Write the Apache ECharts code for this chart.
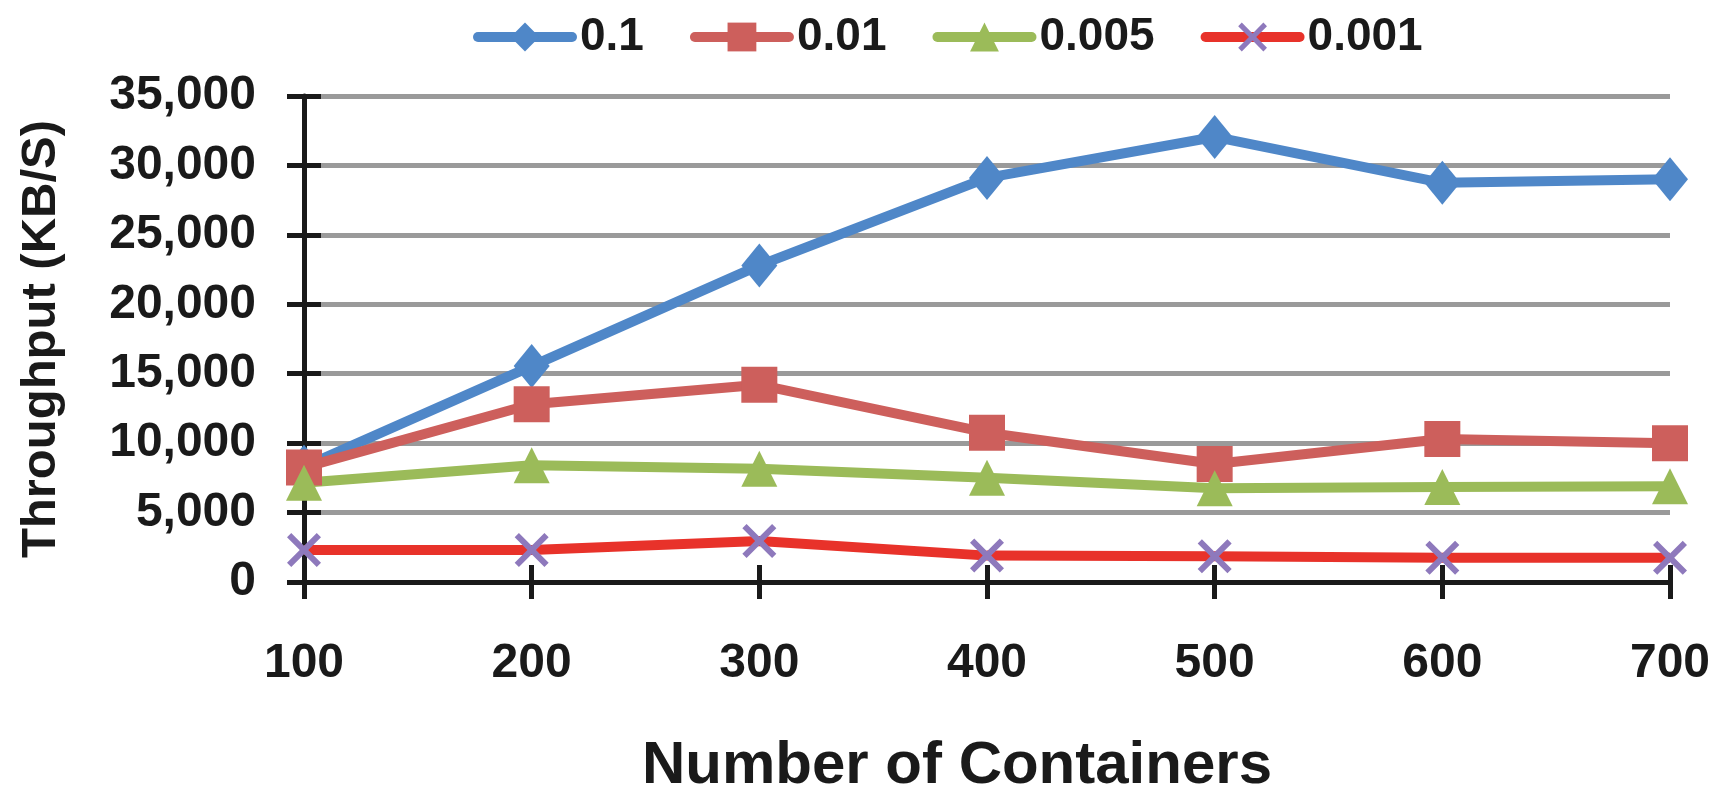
<!DOCTYPE html>
<html>
<head>
<meta charset="utf-8">
<script src="https://cdn.jsdelivr.net/npm/echarts@6/dist/echarts.min.js"></script>
<style>
html,body{margin:0;padding:0;background:#fff;}
#chart{width:1725px;height:801px;}
</style>
</head>
<body>
<div id="chart"></div>
<script>
// ---- data ----
const categories = ['100', '200', '300', '400', '500', '600', '700'];
const seriesNames = ['0.1', '0.01', '0.005', '0.001'];
const values01 = [8300, 15550, 22800, 29100, 32050, 28750, 29000];
const values001 = [8250, 12800, 14200, 10750, 8500, 10300, 10000];
const values0005 = [7150, 8400, 8150, 7500, 6750, 6850, 6900];
const values0001 = [2300, 2300, 2950, 1900, 1850, 1750, 1750];
const yTicks = [0, 5000, 10000, 15000, 20000, 25000, 30000, 35000];
const xTitle = 'Number of Containers';
const yTitle = 'Throughput (KB/S)';

const FONT = '"Liberation Sans", Arial, sans-serif';
const xPath = 'path://M0,1.25 L1.25,0 L5,3.75 L8.75,0 L10,1.25 L6.25,5 L10,8.75 L8.75,10 L5,6.25 L1.25,10 L0,8.75 L3.75,5 Z';

const chart = echarts.init(document.getElementById('chart'), null, {renderer: 'canvas'});

function lineSeries(name, data, lineColor, symbol, symbolSize, markerColor) {
  return {
    name: name,
    type: 'line',
    data: data,
    symbol: symbol,
    symbolSize: symbolSize,
    showAllSymbol: true,
    lineStyle: {color: lineColor, width: 10},
    itemStyle: {color: markerColor || lineColor, opacity: 1},
    emphasis: {disabled: true},
    z: 5
  };
}

const option = {
  animation: false,
  backgroundColor: '#ffffff',
  legend: {
    top: 2,
    left: 468,
    itemWidth: 94,
    itemHeight: 36,
    itemGap: 46,
    lineStyle: {width: 10, cap: 'round'},
    textStyle: {fontFamily: FONT, fontWeight: 'bold', fontSize: 46, lineHeight: 46, color: '#1a1a1a', padding: [14, 0, 0, 3]},
    data: seriesNames
  },
  grid: {left: 304, right: 55, top: 96, bottom: 205, containLabel: false},
  xAxis: [{
    type: 'category',
    data: categories,
    boundaryGap: false,
    axisLine: {lineStyle: {color: '#1a1a1a', width: 5}},
    axisTick: {show: true, length: 17, lineStyle: {color: '#1a1a1a', width: 5}, alignWithLabel: true},
    axisLabel: {margin: 58, fontFamily: FONT, fontWeight: 'bold', fontSize: 48, color: '#1a1a1a'},
    splitLine: {show: false},
    name: xTitle,
    nameLocation: 'middle',
    nameGap: 154,
    nameTextStyle: {fontFamily: FONT, fontWeight: 'bold', fontSize: 60, color: '#1a1a1a', padding: [0, 60, 0, 0]}
  }, {
    type: 'category',
    data: categories,
    boundaryGap: false,
    position: 'bottom',
    axisLine: {show: false},
    axisTick: {show: true, inside: true, length: 17, lineStyle: {color: '#1a1a1a', width: 5}},
    axisLabel: {show: false},
    splitLine: {show: false}
  }],
  yAxis: [{
    type: 'value',
    min: yTicks[0],
    max: yTicks[yTicks.length - 1],
    interval: 5000,
    axisLine: {show: true, lineStyle: {color: '#1a1a1a', width: 5}},
    axisTick: {show: true, length: 17, lineStyle: {color: '#1a1a1a', width: 5}},
    axisLabel: {
      margin: 48,
      fontFamily: FONT, fontWeight: 'bold', fontSize: 48, color: '#1a1a1a',
      formatter: function (v) { return v.toLocaleString('en-US'); }
    },
    splitLine: {show: true, lineStyle: {color: '#9a9a9a', width: 5}},
    name: yTitle,
    nameLocation: 'middle',
    nameGap: 238,
    nameRotate: 90,
    nameTextStyle: {fontFamily: FONT, fontWeight: 'bold', fontSize: 49, color: '#1a1a1a'}
  }, {
    type: 'value',
    min: yTicks[0],
    max: yTicks[yTicks.length - 1],
    interval: 5000,
    position: 'left',
    axisLine: {show: false},
    axisTick: {show: true, inside: true, length: 17, lineStyle: {color: '#1a1a1a', width: 5}},
    axisLabel: {show: false},
    splitLine: {show: false}
  }],
  series: [
    lineSeries(seriesNames[0], values01, '#4F87C8', 'diamond', [36, 44]),
    lineSeries(seriesNames[1], values001, '#CD5F5C', 'rect', 36),
    lineSeries(seriesNames[2], values0005, '#9BBB59', 'triangle', 36),
    lineSeries(seriesNames[3], values0001, '#E8322A', xPath, 34, '#8E79BC')
  ]
};
chart.setOption(option);
</script>
</body>
</html>
